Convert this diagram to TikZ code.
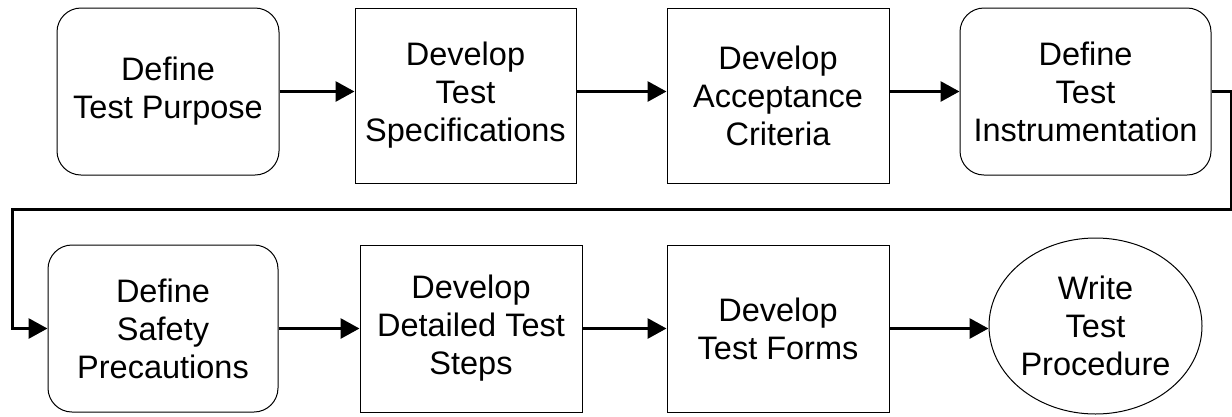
\documentclass[tikz,border=0pt]{standalone}
\usepackage{fontspec}
\setmainfont{Liberation Sans}
\usetikzlibrary{arrows.meta,shapes.geometric}
\begin{document}
\begin{tikzpicture}[x=1pt,y=-1pt,
  box/.style={draw, line width=1pt, align=center, inner sep=0pt,
    font=\fontsize{32.5}{38}\selectfont},
  rbox/.style={box, rounded corners=24pt},
  oval/.style={box, ellipse},
  flow/.style={line width=3pt, -{Triangle[length=19pt,width=20pt]}}]
\useasboundingbox (0,0) rectangle (1232,416);
\node[rbox, minimum width=222pt, minimum height=167pt] (b1) at (168,91.5) {Define\\Test Purpose};
\node[box, minimum width=221pt, minimum height=175pt] (b2) at (465.5,95.5) {Develop\\Test\\Specifications};
\node[box, minimum width=222pt, minimum height=175pt] (b3) at (778,95.5) {Develop\\Acceptance\\Criteria};
\node[rbox, minimum width=251pt, minimum height=167pt] (b4) at (1085.5,91.5) {Define\\Test\\Instrumentation};
\node[rbox, minimum width=230pt, minimum height=167pt] (b5) at (163,328.5) {Define\\Safety\\Precautions};
\node[box, minimum width=222pt, minimum height=167pt] (b6) at (471,328.5) {Develop\\Detailed Test\\Steps};
\node[box, minimum width=222pt, minimum height=167pt] (b7) at (778,328.5) {Develop\\Test Forms};
\node[oval, minimum width=213pt, minimum height=176pt] (b8) at (1095.5,326) {Write\\Test\\Procedure};
\coordinate (r) at (1231,209);
\coordinate (l) at (12,209);
\draw[flow] (b1.east) -- (b2.west |- b1.east);
\draw[flow] (b2.east |- b1.east) -- (b3.west |- b1.east);
\draw[flow] (b3.east |- b1.east) -- (b4.west);
\draw[flow] (b4.east) -- (b4.east -| r) |- (l) |- (b5.west);
\draw[flow] (b5.east) -- (b6.west);
\draw[flow] (b6.east) -- (b7.west);
\draw[flow] (b7.east) -- (b8.west |- b7.east);
\end{tikzpicture}
\end{document}
